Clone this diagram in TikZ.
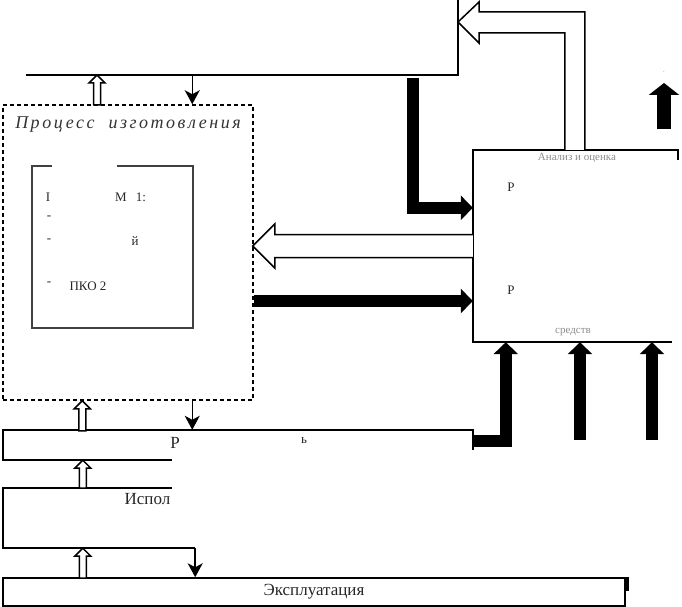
\documentclass[tikz,border=0pt]{standalone}
\usepackage{fontspec}
\setmainfont{Liberation Serif}
\usetikzlibrary{arrows.meta, positioning, calc}

% hollow arrow pointing up: tip, length
\newcommand\hollowup[2]{%
  \draw[hol] #1 -- ++(8,8) -- ++(-4.5,0) -- ++(0,#2-8) -- ++(-7,0)
    -- ++(0,8-#2) -- ++(-4.5,0) -- cycle;}

\begin{document}
\begin{tikzpicture}[x=1pt, y=-1pt,
    ln/.style={line width=1.5pt},
    box/.style={inner sep=0pt},
    thin/.style={ln, -{Stealth[length=14pt, width=15pt, inset=4pt]}},
    hol/.style={ln, fill=white, line join=miter},
    blk/.style={line width=12pt, line join=miter, -{Triangle[length=12pt, width=24pt]}},
    lbl/.style={font=\fontsize{17}{19}\selectfont, text=black!85},
    frag/.style={font=\fontsize{13}{15}\selectfont, text=black!85},
    faint/.style={font=\fontsize{11}{13}\selectfont, text=black!45}
  ]
  \useasboundingbox (0,0) rectangle (682,607);

  % upper block (only its corner is shown)
  \coordinate (tl) at (26,75);
  \coordinate (tr) at (458,75);
  \draw[ln] (tl) -- (tr) -- (458,0);

  % manufacturing process
  \node[box, draw, ln, dash pattern=on 4pt off 3pt,
    minimum width=250, minimum height=295] (proc) at (128,252.5) {};
  \node[font=\itshape\fontsize{18}{20}\selectfont\addfontfeature{LetterSpace=14},
    text=black!80, below=9pt of proc.north] (proct) {Процесс \ изготовления};

  \node[box, minimum width=161, minimum height=162] (norm) at (112.5,247) {};
  \draw[ln, black!75] ($(norm.north west)+(20,0)$) -- (norm.north west)
    -- (norm.south west) -- (norm.south east) -- (norm.north east)
    -- ($(norm.north west)+(85,0)$);
  \node[frag] (n1) at (48,197) {I};
  \node[frag] (n2) at (121,197) {М};
  \node[frag] (n3) at (141,197) {1:};
  \node[frag] (n4) at (49,218) {-};
  \node[frag] (n5) at (49,241) {-};
  \node[frag] (n6) at (135,241) {й};
  \node[frag] (n7) at (49,284) {-};
  \node[frag] (n8) at (88,286) {ПКО 2};

  % analysis block
  \node[box, minimum width=205, minimum height=192] (anal) at (575.5,246) {};
  \draw[ln] ($(anal.north east)+(0,10)$) -- (anal.north east) -- (anal.north west)
    -- (anal.south west) -- ($(anal.south east)+(-6,0)$);
  \node[faint] (at) at (577,158) {Анализ и оценка};
  \node[frag] (a1) at (511,187) {Р};
  \node[frag] (a2) at (511,290) {Р};
  \node[faint] (a3) at (573,332) {средств};

  % bars
  \node[box, minimum width=470, minimum height=30] (rab) at (238,445) {};
  \draw[ln] ($(rab.south west)+(169,0)$) -- (rab.south west) -- (rab.north west)
    -- (rab.north east) -- ++(0,20);
  \node[lbl] (r1) at (175,443) {Р};
  \node[frag] (r2) at (304,441) {ь};

  \node[box, minimum width=192, minimum height=60] (isp) at (99,518) {};
  \draw[ln] ($(isp.north west)+(169,0)$) -- (isp.north west) -- (isp.south west)
    -- (isp.south east);
  \node[lbl, anchor=north east] (ispt) at ($(isp.north west)+(171,2)$) {Испол};

  \node[box, draw, ln, lbl, minimum width=622, minimum height=28] (expl) at (314,592) {Эксплуатация};
  \fill (expl.north east) rectangle ++(3,14);

  % hollow arrows
  \hollowup{($(tl)+(71,0)$)}{30}
  \hollowup{($(proc.south west)+(80,0)$)}{30}
  \hollowup{($(rab.south west)+(80,0)$)}{28}
  \hollowup{($(isp.south west)+(80,0)$)}{30}

  \draw[hol] ($(anal.west)+(0,-11.5)$) -- ++(-198,0) -- ++(0,-10.5)
    -- ++(-22,22) -- ++(22,22) -- ++(0,-10.5) -- ++(198,0);
  \draw[hol] ($(anal.north west)+(112,0)$) |- (479,12) -- (479,2) -- (458,22)
    -- (479,43) -- (479,33) -| ($(anal.north west)+(92,0)$);

  % thin arrows
  \coordinate (d1) at ($(proc.north west)+(190,0)$);
  \draw[thin] (d1 |- tl) -- (d1);
  \coordinate (d2) at ($(proc.south west)+(190,0)$);
  \draw[thin] (d2) -- (d2 |- rab.north);
  \draw[thin] (isp.south east) -- (isp.south east |- expl.north);

  % black arrows
  \draw[blk] ($(tr)+(-45,3)$) |- ($(anal.north west)+(0,58)$);
  \coordinate (b1) at ($(proc.east)+(0,48.5)$);
  \draw[blk] (b1) -- (b1 -| anal.west);
  \draw[blk] ($(rab.east)+(0,-4)$) -| ($(anal.south west)+(33,0)$);
  \coordinate (b2) at (580,440);
  \draw[blk] (b2) -- (b2 |- anal.south);
  \coordinate (b3) at (652,440);
  \draw[blk] (b3) -- (b3 |- anal.south);
  \coordinate (b4) at (664,129);
  \draw[blk, line width=14pt, -{Triangle[length=12pt, width=30pt]}] (b4) -- ++(0,-46);
  \node[font=\tiny] (dot) at (664,72) {.};
\end{tikzpicture}
\end{document}
